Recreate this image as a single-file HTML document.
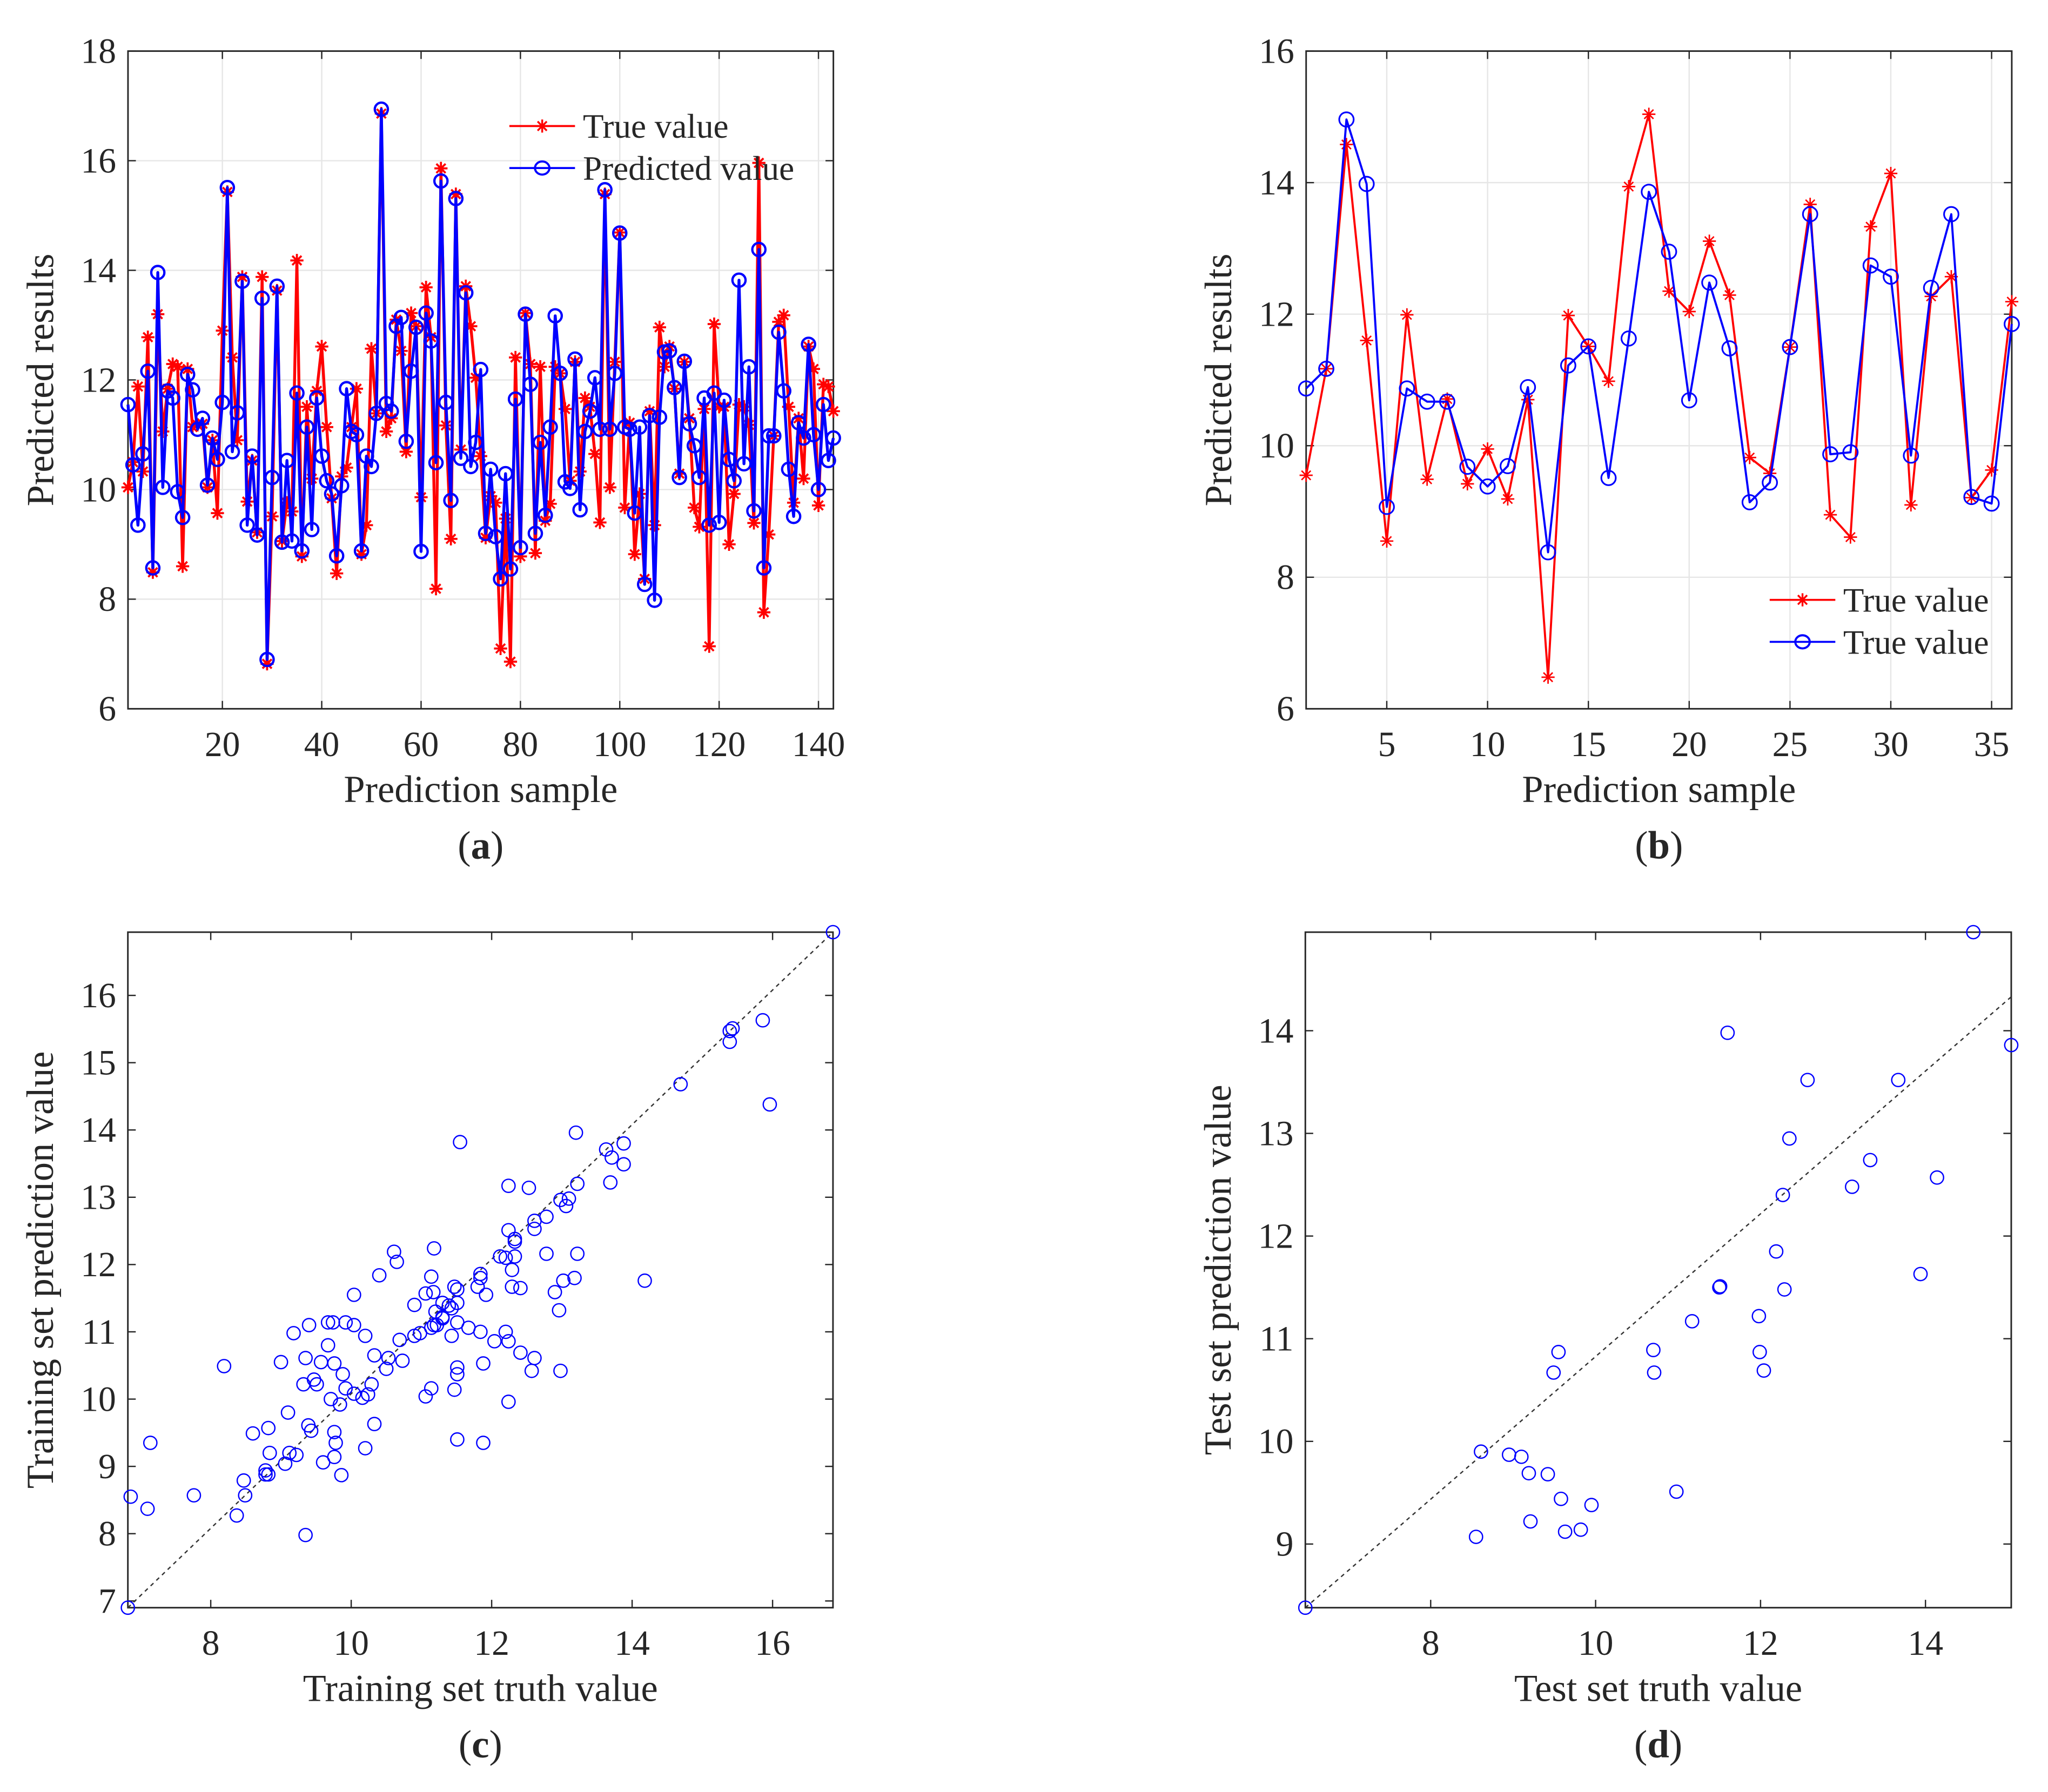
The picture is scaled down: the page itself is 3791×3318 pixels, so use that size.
<!DOCTYPE html>
<html><head><meta charset="utf-8"><style>
html,body{margin:0;padding:0;background:#fff;}
svg{display:block;}
text{font-family:"Liberation Serif",serif;fill:#262626;}
</style></head><body>
<svg id="fig" xmlns="http://www.w3.org/2000/svg" width="3791" height="3318" viewBox="0 0 1560 1365.3"></svg>
<script>
// ---- Panel (a) data: training set ----
const trainTrue = [10.04,10.5,11.88,10.33,12.78,8.49,13.2,11.06,11.84,12.29,12.24,8.6,12.2,11.14,11.18,11.2,10.04,10.9,9.57,12.9,
15.43,12.41,10.9,13.88,9.78,10.53,9.22,13.88,6.82,9.51,13.63,9.06,9.76,9.6,14.18,8.78,11.51,10.2,11.8,12.61,
11.14,9.84,8.47,10.24,10.4,11.14,11.84,8.82,9.35,12.57,11.39,16.86,11.06,11.3,13.1,12.53,10.69,13.22,12.98,9.86,
13.69,12.78,8.19,15.86,11.17,9.1,15.39,10.73,13.71,12.98,12.04,10.61,9.12,9.88,9.76,7.1,9.47,6.86,12.41,8.78,
13.22,12.29,8.84,12.24,9.43,9.74,12.24,12.12,11.47,10.16,12.33,10.33,11.67,11.51,10.65,9.4,15.39,10.04,12.33,14.69,
9.67,11.22,8.82,9.92,8.37,11.43,9.35,12.96,12.24,12.61,11.84,10.29,12.33,11.3,9.67,9.32,11.47,7.14,13.02,11.51,
11.51,9.0,9.92,11.55,11.51,11.18,9.39,15.96,7.76,9.18,10.98,13.06,13.18,11.51,9.76,11.3,10.2,12.61,12.2,9.71,
11.92,11.88,11.43];
const trainPred = [11.55,10.45,9.35,10.65,12.16,8.57,13.96,10.04,11.8,11.67,9.96,9.49,12.1,11.82,11.1,11.3,10.08,10.94,10.55,11.59,
15.51,10.69,11.4,13.8,9.35,10.61,9.17,13.49,6.9,10.22,13.71,9.04,10.53,9.06,11.76,8.88,11.14,9.27,11.67,10.61,
10.16,9.92,8.79,10.07,11.84,11.06,11.0,8.88,10.61,10.42,11.39,16.94,11.57,11.43,12.98,13.14,10.88,12.16,12.96,8.87,
13.22,12.71,10.49,15.63,11.59,9.8,15.31,10.57,13.59,10.42,10.86,12.19,9.2,10.37,9.14,8.37,10.29,8.55,11.65,8.94,
13.2,11.92,9.2,10.86,9.53,11.14,13.17,12.12,10.14,10.02,12.38,9.63,11.06,11.43,12.04,11.1,15.47,11.1,12.12,14.68,
11.14,11.1,9.57,11.14,8.27,11.35,7.98,11.32,12.51,12.53,11.86,10.22,12.34,11.2,10.8,10.22,11.67,9.35,11.76,9.4,
11.63,10.55,10.16,13.82,10.47,12.24,9.61,14.38,8.57,10.98,10.98,12.87,11.8,10.37,9.51,11.22,10.94,12.65,11.0,10.0,
11.55,10.53,10.94];
// ---- Panel (b) data: test set ----
const testTrue = [9.55,11.17,14.58,11.6,8.55,11.99,9.49,10.71,9.42,9.95,9.19,10.7,6.48,11.98,11.51,10.98,13.94,15.04,12.35,12.04,
13.11,12.29,9.82,9.58,11.5,13.67,8.95,8.61,13.33,14.14,9.1,12.27,12.57,9.21,9.63,12.19];
const testPred = [10.87,11.17,14.96,13.98,9.07,10.87,10.67,10.67,9.68,9.38,9.69,10.89,8.38,11.22,11.51,9.51,11.63,13.86,12.95,10.69,
12.48,11.48,9.14,9.44,11.5,13.52,9.87,9.9,12.74,12.57,9.85,12.4,13.52,9.22,9.12,11.85];
const aYTicks = [6,8,10,12,14,16,18];
const aXTicks = [20,40,60,80,100,120,140];
const bYTicks = [6,8,10,12,14,16];
const bXTicks = [5,10,15,20,25,30,35];
const cXTicks = [8,10,12,14,16];
const cYTicks = [7,8,9,10,11,12,13,14,15,16];
const dXTicks = [8,10,12,14];
const dYTicks = [9,10,11,12,13,14];
const dRefLine = [[6.48,8.38],[15.04,14.33]];

const NS='http://www.w3.org/2000/svg';
const svg=document.getElementById('fig');
function mk(tag,attrs,parent){const e=document.createElementNS(NS,tag);for(const k in attrs)e.setAttribute(k,attrs[k]);(parent||svg).appendChild(e);return e;}
function txt(s,attrs,parent){const e=mk('text',attrs,parent);e.textContent=s;return e;}

function axes(cfg){
  const g=mk('g',{});
  
  
  const {L,R,T,B,x0,x1,y0,y1}=cfg;
  const sx=v=>L+(v-x0)/(x1-x0)*(R-L);
  const sy=v=>B-(v-y0)/(y1-y0)*(B-T);
  mk('rect',{x:L,y:T,width:R-L,height:B-T,fill:'#fff'},g);
  if(cfg.grid){
    cfg.xt.forEach(v=>{const l=mk('line',{x1:sx(v),x2:sx(v),y1:T,y2:B,stroke:'#e6e6e6','stroke-width':1},g);});
    cfg.yt.forEach(v=>{const l=mk('line',{x1:L,x2:R,y1:sy(v),y2:sy(v),stroke:'#e6e6e6','stroke-width':1},g);});
  }
  const tl=6;
  cfg.xt.forEach(v=>{
    mk('line',{x1:sx(v),x2:sx(v),y1:B,y2:B-tl,stroke:'#262626','stroke-width':1},g);
    mk('line',{x1:sx(v),x2:sx(v),y1:T,y2:T+tl,stroke:'#262626','stroke-width':1},g);
    const t=txt(String(v),{x:sx(v),y:B+36,'text-anchor':'middle','font-size':27},g);
    
    
  });
  cfg.yt.forEach(v=>{
    mk('line',{x1:L,x2:L+tl,y1:sy(v),y2:sy(v),stroke:'#262626','stroke-width':1},g);
    mk('line',{x1:R,x2:R-tl,y1:sy(v),y2:sy(v),stroke:'#262626','stroke-width':1},g);
    const t=txt(String(v),{x:L-9,y:sy(v)+9,'text-anchor':'end','font-size':27},g);
    
    
  });
  const fr=mk('rect',{x:L,y:T,width:R-L,height:B-T,fill:'none',stroke:'#262626','stroke-width':1.2},g);
  
  
  const xt=txt(cfg.xlabel,{x:(L+R)/2,y:B+71,'text-anchor':'middle','font-size':29},g);
  
  
  const yx=L-57, yy=(T+B)/2;
  const yt=txt(cfg.ylabel,{x:yx,y:yy,'text-anchor':'middle','font-size':29,transform:`rotate(-90 ${yx} ${yy})`},g);
  
  
  const pl=txt('',{x:(L+R)/2,y:B+114,'text-anchor':'middle','font-size':30},g);
  
  
  pl.innerHTML='(<tspan font-weight="bold">'+cfg.tag+'</tspan>)';
  return {g,sx,sy};
}
function star(g,x,y,r,color,w){
  const d=`M${x-r},${y}H${x+r}M${x},${y-r}V${y+r}M${x-r*0.7},${y-r*0.7}L${x+r*0.7},${y+r*0.7}M${x-r*0.7},${y+r*0.7}L${x+r*0.7},${y-r*0.7}`;
  return mk('path',{d,stroke:color,'stroke-width':w,fill:'none'},g);
}
function lineSeries(ax,vals,color,lw,marker,r,name){
  const g=mk('g',{},ax.g);
  
  
  const pts=vals.map((v,i)=>ax.sx(i+1).toFixed(2)+','+ax.sy(v).toFixed(2)).join(' ');
  mk('polyline',{points:pts,fill:'none',stroke:color,'stroke-width':lw,'stroke-linejoin':'round'},g);
  vals.forEach((v,i)=>{
    let m;
    if(marker==='star') m=star(g,ax.sx(i+1),ax.sy(v),r,color,lw*0.7);
    else m=mk('ellipse',{cx:ax.sx(i+1),cy:ax.sy(v),rx:r,ry:r,fill:'none',stroke:color,'stroke-width':lw*0.8},g);
    
    
  });
}
function legend(x,y,labels,lw){
  const g=mk('g',{});
  
  
  const cols=['#ff0000','#0000ff'];
  labels.forEach((s,i)=>{
    const yy=y+i*32;
    const e=mk('g',{},g);
    
    
    mk('line',{x1:x,x2:x+50,y1:yy,y2:yy,stroke:cols[i],'stroke-width':lw},e);
    if(i===0) star(e,x+25,yy,5,cols[i],1.4); else mk('ellipse',{cx:x+25,cy:yy,rx:5.5,ry:5,fill:'none',stroke:cols[i],'stroke-width':1.6},e);
    txt(s,{x:x+56,y:yy+9,'font-size':26},e);
  });
}
function scatter(ax,xs,ys,name){
  const g=mk('g',{},ax.g);
  
  
  xs.forEach((v,i)=>{
    const c=mk('circle',{cx:ax.sx(v),cy:ax.sy(ys[i]),r:5,fill:'none',stroke:'#0000ff','stroke-width':1},g);
    
    
  });
}

// Panel a
const A=axes({name:'panel-a-line-chart',L:97.5,R:634.8,T:38.9,B:540,x0:1,x1:143,y0:6,y1:18,xt:aXTicks,yt:aYTicks,grid:true,
  xlabel:'Prediction sample',ylabel:'Predicted results',tag:'a'});
lineSeries(A,trainTrue,'#ff0000',2.2,'star',5,'true-value-series');
lineSeries(A,trainPred,'#0000ff',2.2,'circle',5,'predicted-value-series');
legend(388,96,['True value','Predicted value'],1.5);

// Panel b
const Bx=axes({name:'panel-b-line-chart',L:994.9,R:1532.4,T:38.9,B:540,x0:1,x1:36,y0:6,y1:16,xt:bXTicks,yt:bYTicks,grid:true,
  xlabel:'Prediction sample',ylabel:'Predicted results',tag:'b'});
lineSeries(Bx,testTrue,'#ff0000',1.6,'star',5,'true-value-series');
lineSeries(Bx,testPred,'#0000ff',1.6,'circle',5.5,'predicted-value-series');
legend(1348,457,['True value','True value'],1.5);

// Panel c
const cx0=Math.min(...trainTrue), cx1=Math.max(...trainTrue), cy0=Math.min(...trainPred), cy1=Math.max(...trainPred);
const C=axes({name:'panel-c-scatter',L:97.4,R:634.5,T:710.2,B:1224.9,x0:cx0,x1:cx1,y0:cy0,y1:cy1,xt:cXTicks,yt:cYTicks,grid:false,
  xlabel:'Training set truth value',ylabel:'Training set prediction value',tag:'c'});
const cl=mk('line',{x1:C.sx(cx0),y1:C.sy(cy0),x2:C.sx(cx1),y2:C.sy(cy1),stroke:'#333','stroke-width':1,'stroke-dasharray':'3,3'},C.g);


scatter(C,trainTrue,trainPred,'training-scatter');

// Panel d
const dx0=Math.min(...testTrue), dx1=Math.max(...testTrue), dy0=Math.min(...testPred), dy1=Math.max(...testPred);
const D=axes({name:'panel-d-scatter',L:994.3,R:1532,T:710.2,B:1224.9,x0:dx0,x1:dx1,y0:dy0,y1:dy1,xt:dXTicks,yt:dYTicks,grid:false,
  xlabel:'Test set truth value',ylabel:'Test set prediction value',tag:'d'});
const dl=mk('line',{x1:D.sx(dRefLine[0][0]),y1:D.sy(dRefLine[0][1]),x2:D.sx(dRefLine[1][0]),y2:D.sy(dRefLine[1][1]),stroke:'#333','stroke-width':1,'stroke-dasharray':'3,3'},D.g);


scatter(D,testTrue,testPred,'test-scatter');
</script>
</body></html>
